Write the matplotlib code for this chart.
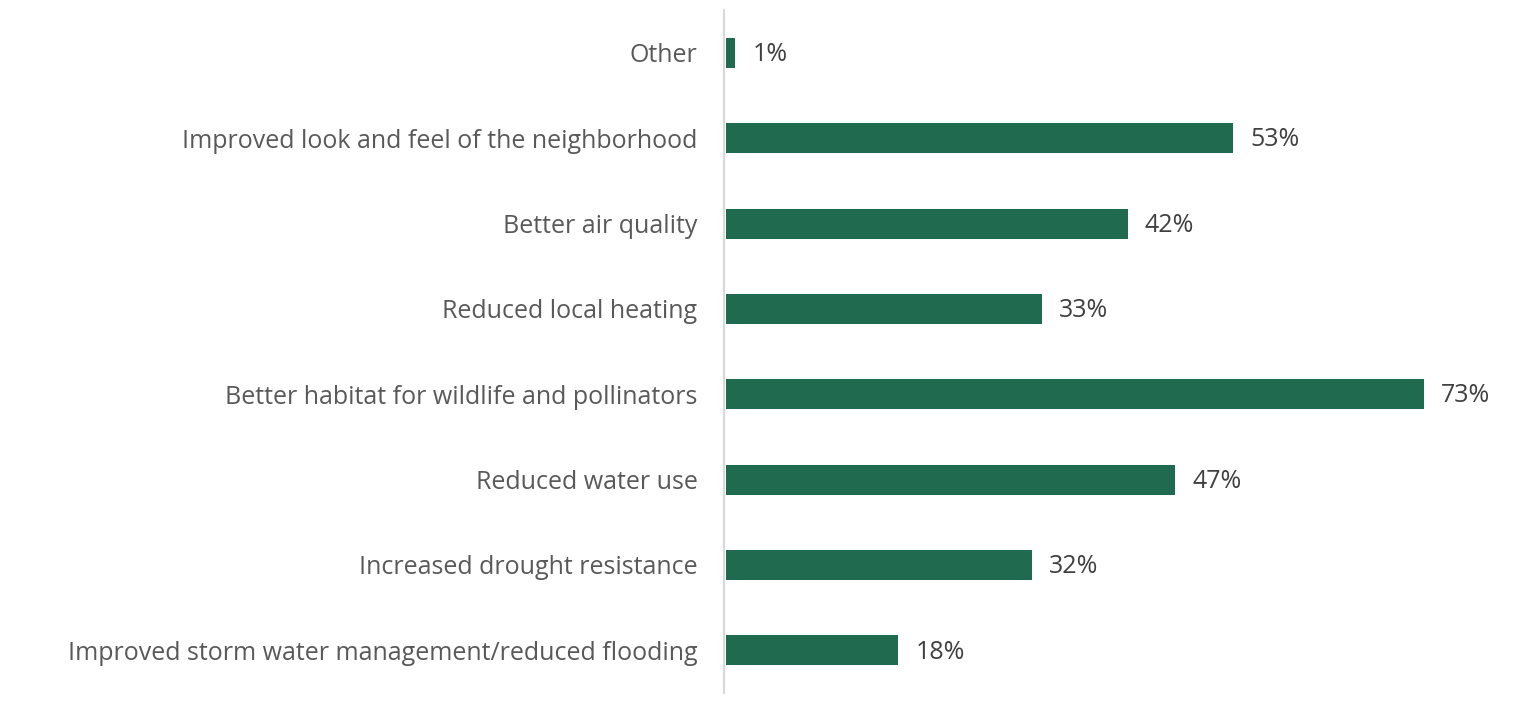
import matplotlib.pyplot as plt

categories = ['Improved storm water management/reduced flooding',
              'Increased drought resistance',
              'Reduced water use',
              'Better habitat for wildlife and pollinators',
              'Reduced local heating',
              'Better air quality',
              'Improved look and feel of the neighborhood',
              'Other']
values = [18, 32, 47, 73, 33, 42, 53, 1]
value_labels = ['18%', '32%', '47%', '73%', '33%', '42%', '53%', '1%']

plt.rcParams['font.family'] = ['Open Sans', 'DejaVu Sans']

fig = plt.figure(figsize=(15.37, 7.09), dpi=100)
ax = fig.add_axes([0.471, 0.0226, 0.529, 0.963])

ypos = range(len(categories))
ax.barh(ypos, values, height=0.35, color='#206B50', left=0.2)

for y, v, lab in zip(ypos, values, value_labels):
    ax.text(v + 0.2 + 1.8, y - 0.02, lab, va='center', ha='left', fontsize=18, color='#404040')

ax.set_xlim(0, 85)
ax.set_ylim(-0.5, 7.5)
ax.set_yticks(list(ypos))
ax.set_yticklabels(categories, fontsize=18, color='#595959')
ax.tick_params(axis='y', length=0, pad=19)
ax.set_xticks([])

for s in ['top', 'right', 'bottom']:
    ax.spines[s].set_visible(False)
ax.spines['left'].set_color('#D9D9D9')
ax.spines['left'].set_linewidth(1.5)

plt.savefig('out.png', dpi=100)
